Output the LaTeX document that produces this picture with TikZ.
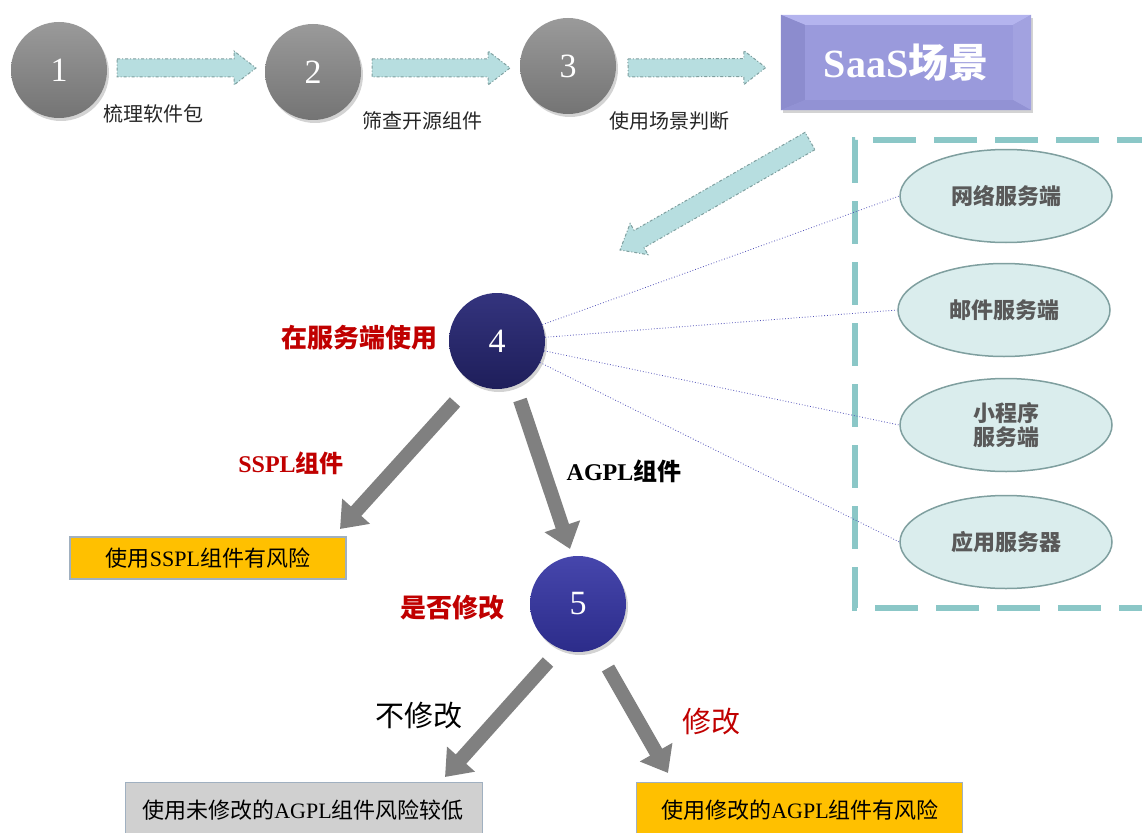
\documentclass[tikz,border=0pt]{standalone}
\usepackage{fontspec}
\setmainfont{Liberation Serif}
\newfontfamily\cjk{Noto Sans CJK SC}
\usetikzlibrary{calc,shapes.geometric,shadows,arrows.meta}
\newcommand\zh[1]{{\cjk #1}}
\definecolor{arrowfill}{HTML}{B7DEE0}
\definecolor{arrowedge}{HTML}{7F9F9F}
\definecolor{dashcol}{HTML}{8BC7C7}
\definecolor{ellfill}{HTML}{DAEDED}
\definecolor{elledge}{HTML}{7F9F9F}
\definecolor{gold}{HTML}{FFC000}
\definecolor{boxedge}{HTML}{A0B0C0}
\definecolor{redtxt}{HTML}{C00000}
\definecolor{grayarrow}{HTML}{808080}
\definecolor{ltgraybox}{HTML}{D0D0D0}
\definecolor{ellipsetxt}{HTML}{595959}
\definecolor{graytop}{HTML}{9A9A9A}
\definecolor{graybot}{HTML}{747474}
\definecolor{navytop}{HTML}{34347E}
\definecolor{navybot}{HTML}{1E1E5A}
\definecolor{bluetop}{HTML}{4646AC}
\definecolor{bluebot}{HTML}{2C2C8A}
\definecolor{dotblue}{HTML}{5050B8}
\definecolor{saasmid}{HTML}{9A9ADC}
\definecolor{saastop}{HTML}{B4B4EE}
\definecolor{saasleft}{HTML}{8C8CCE}
\definecolor{saasright}{HTML}{A2A2E0}
\definecolor{saasbot}{HTML}{9292D4}
\newcommand\fs[1]{\fontsize{#1}{#1}\selectfont}
\newcommand\blockarr[4]{% start, end, body half, head half
  \coordinate (hb) at ($(#2)!22pt!(#1)$);
  \draw[blockarrow] ($(#1)!#3!90:(#2)$) -- ($(hb)!#3!90:(#2)$) -- ($(hb)!#4!90:(#2)$)
     -- (#2) -- ($(hb)!#4!-90:(#2)$) -- ($(hb)!#3!-90:(#2)$) -- ($(#1)!#3!-90:(#2)$) -- cycle;}
\tikzset{
  ball/.style={circle, minimum size=96pt, inner sep=0pt, font=\fs{34}, text=white,
     drop shadow={opacity=0.35, shadow xshift=2pt, shadow yshift=-3pt}},
  grayball/.style={ball, top color=graytop, bottom color=graybot},
  navyball/.style={ball, top color=navytop, bottom color=navybot},
  blueball/.style={ball, top color=bluetop, bottom color=bluebot},
  blockarrow/.style={fill=arrowfill, draw=arrowedge, line width=1pt, dash dot},
  steplabel/.style={font=\cjk\fs{20}, text=black!85},
  servnode/.style={ellipse, fill=ellfill, draw=elledge, line width=1.5pt, minimum width=212pt,
     minimum height=93pt, inner sep=0pt, font=\cjk\bfseries\fs{22}, text=ellipsetxt, align=center},
  dotline/.style={draw=dotblue, dotted, line width=0.8pt},
  fatarrow/.style={draw=grayarrow, line width=14pt, -{Triangle[width=36pt,length=24pt]}},
  redlabel/.style={text=redtxt, font=\bfseries\fs{26}},
  resultbox/.style={draw=boxedge, line width=1.2pt, font=\fs{22}, text=black},
}
\begin{document}
\begin{tikzpicture}[x=1pt,y=-1pt]
\useasboundingbox (0,0) rectangle (1142,832);

% top step circles
\node[grayball] (c1) at (59,70) {1};
\node[grayball] (c2) at (313,72) {2};
\node[grayball] (c3) at (568,66) {3};

% SaaS box with bevel
\node[minimum width=250pt, minimum height=95pt, inner sep=0pt,
      drop shadow={opacity=0.35, shadow xshift=2pt, shadow yshift=-3pt}, fill=saasmid] (saas) at (906,62.5) {};
\fill[saastop] (saas.north west) -- (saas.north east) -- ($(saas.north east)+(-18,10)$) -- ($(saas.north west)+(24,10)$) -- cycle;
\fill[saasleft] (saas.north west) -- ($(saas.north west)+(24,10)$) -- ($(saas.south west)+(24,-10)$) -- (saas.south west) -- cycle;
\fill[saasright] (saas.north east) -- ($(saas.north east)+(-18,10)$) -- ($(saas.south east)+(-18,-10)$) -- (saas.south east) -- cycle;
\fill[saasbot] (saas.south west) -- ($(saas.south west)+(24,-10)$) -- ($(saas.south east)+(-18,-10)$) -- (saas.south east) -- cycle;
\node[text=white, font=\bfseries\fs{40}] (saastxt) at (saas.center) {SaaS\zh{场景}};

% step block arrows
\coordinate (a1s) at ($(c1.center)+(58,-2)$);
\coordinate (a1e) at ($(c2.center)+(-57,-4)$);
\coordinate (a2s) at ($(c2.center)+(59,-4)$);
\coordinate (a2e) at ($(c3.center)+(-58,2)$);
\coordinate (a3s) at ($(c3.center)+(60,2)$);
\coordinate (a3e) at ($(saas.west)+(-15,5)$);
\blockarr{a1s}{a1e}{9pt}{17pt}
\blockarr{a2s}{a2e}{9pt}{17pt}
\blockarr{a3s}{a3e}{9pt}{17pt}

\node[steplabel] (l1) at (153,114) {梳理软件包};
\node[steplabel] (l2) at (422,121) {筛查开源组件};
\node[steplabel] (l3) at (669,121) {使用场景判断};

% diagonal arrow
\coordinate (ds) at (810,141);
\coordinate (de) at (620,250);
\blockarr{ds}{de}{10pt}{18pt}

% dashed container
\draw[dashcol, line width=6pt, dash pattern=on 43pt off 18pt] (1160,140) -- (855,140) -- (855,608) -- (1160,608);

% service ellipses
\node[servnode] (e1) at (1006,196) {网络服务端};
\node[servnode] (e2) at (1004,310) {邮件服务端};
\node[servnode] (e3) at (1006,425) {小程序\\[2pt]服务端};
\node[servnode] (e4) at (1006,542) {应用服务器};

% circle 4
\node[navyball] (c4) at (497,341) {4};
\draw[dotline] (c4) -- (e1.west);
\draw[dotline] (c4) -- (e2.west);
\draw[dotline] (c4) -- (e3.west);
\draw[dotline] (c4) -- (e4.west);
\node[redlabel, font=\cjk\bfseries\fs{26}] (q4) at (359,338) {在服务端使用};

% SSPL branch
\node[resultbox, fill=gold, minimum width=276pt, minimum height=42pt, inner sep=0pt] (sspl) at (208,558) {\zh{使用}SSPL\zh{组件有风险}};
\coordinate (g1s) at (455,402);
\coordinate (g1e) at (340,529);
\draw[fatarrow] (g1s) -- (g1e);
\node[redlabel, font=\bfseries\fs{24}] (lsspl) at (291,463) {SSPL\zh{组件}};

% AGPL branch
\node[blueball] (c5) at (578,604) {5};
\coordinate (g2s) at (520,400);
\coordinate (g2e) at (570,549);
\draw[fatarrow] (g2s) -- (g2e);
\node[font=\bfseries\fs{24}] (lagpl) at (624,471) {AGPL\zh{组件}};
\node[redlabel, font=\cjk\bfseries\fs{26}] (q5) at (452,608) {是否修改};

% bottom results
\node[resultbox, fill=ltgraybox, minimum width=357pt, minimum height=64pt, inner sep=0pt, anchor=north west] (r1) at (125,782) {};
\node[font=\fs{22}] (r1t) at (303,810) {\zh{使用未修改的}AGPL\zh{组件风险较低}};
\node[resultbox, fill=gold, minimum width=326pt, minimum height=64pt, inner sep=0pt, anchor=north west] (r2) at (636,782) {};
\node[font=\fs{22}] (r2t) at (800,810) {\zh{使用修改的}AGPL\zh{组件有风险}};

\coordinate (g3s) at (548,662);
\coordinate (g3e) at (445,777);
\draw[fatarrow] (g3s) -- (g3e);
\coordinate (g4s) at (608,668);
\coordinate (g4e) at (668,773);
\draw[fatarrow] (g4s) -- (g4e);
\node[font=\cjk\fs{29}] (lno) at (419,716) {不修改};
\node[font=\cjk\fs{29}, text=redtxt] (lyes) at (711,722) {修改};
\end{tikzpicture}
\end{document}
